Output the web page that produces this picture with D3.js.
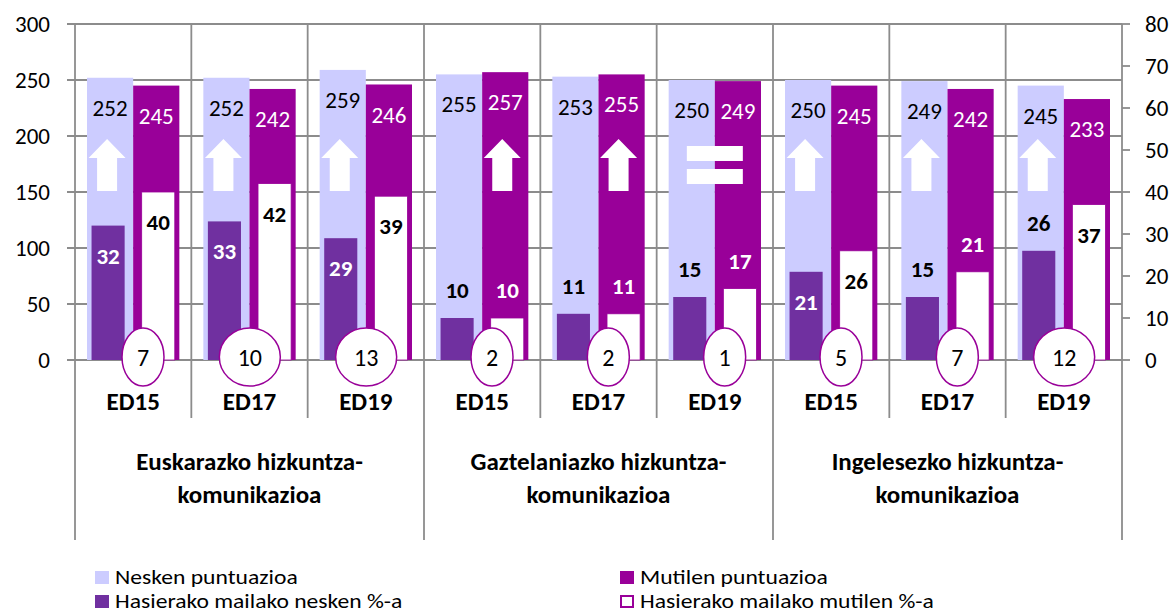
<!DOCTYPE html>
<html>
<head>
<meta charset="utf-8">
<script src="https://cdn.jsdelivr.net/npm/d3@7"></script>
<style>
  body { margin: 0; background: #fff; }
  svg { display: block; font-family: Carlito, Calibri, Lato, sans-serif; }
</style>
</head>
<body>
<div id="chart"></div>
<script>
// data
const groups = [
  ['Euskarazko hizkuntza-', 'komunikazioa'],
  ['Gaztelaniazko hizkuntza-', 'komunikazioa'],
  ['Ingelesezko hizkuntza-', 'komunikazioa'],
];
const editions = ['ED15', 'ED17', 'ED19'];
const neskenScore = [252, 252, 259, 255, 253, 250, 250, 249, 245];
const mutilenScore = [245, 242, 246, 257, 255, 249, 245, 242, 233];
const neskenPct = [32, 33, 29, 10, 11, 15, 21, 15, 26];
const mutilenPct = [40, 42, 39, 10, 11, 17, 26, 21, 37];
// where the % labels sit in the original: inside the bar or just above it
const neskenPctLabel = ['in', 'in', 'in', 'out', 'out', 'out', 'in', 'out', 'out'];
const mutilenPctLabel = ['in', 'in', 'in', 'out', 'out', 'out', 'in', 'out', 'in'];
const leftTicks = [0, 50, 100, 150, 200, 250, 300];
const rightTicks = [0, 10, 20, 30, 40, 50, 60, 70, 80];

const colours = {
  nesken: '#CCCCFF',
  mutilen: '#990099',
  neskenPct: '#7030A0',
  mutilenPct: '#FFFFFF',
  grid: '#8c8c8c',
};

const width = 1176;
const height = 612;
const plot = { left: 75, right: 1122, top: 24, bottom: 360 };
const fs = 23;

const cats = d3.range(neskenScore.length);

const x = d3.scaleBand()
    .domain(cats)
    .range([plot.left, plot.right]);

// primary bars sit side by side, secondary ones are thinner with a gap
const xPrim = d3.scaleBand()
    .domain(['nesken', 'mutilen'])
    .range([0, x.bandwidth()])
    .paddingInner(0)
    .paddingOuter(0.26);

const xSec = d3.scaleBand()
    .domain(['nesken', 'mutilen'])
    .range([0, x.bandwidth()])
    .paddingInner(0.34)
    .paddingOuter(0.33);

const y = d3.scaleLinear().domain([0, 300]).range([plot.bottom, plot.top]);
const y2 = d3.scaleLinear().domain([0, 80]).range([plot.bottom, plot.top]);

const svg = d3.select('#chart').append('svg')
    .attr('width', width)
    .attr('height', height);

// horizontal gridlines + left ticks
svg.append('g')
  .selectAll('line')
  .data(leftTicks)
  .join('line')
    .attr('x1', plot.left - 8)
    .attr('x2', plot.right)
    .attr('y1', d => y(d))
    .attr('y2', d => y(d))
    .attr('stroke', colours.grid)
    .attr('stroke-width', 1.8);

// vertical gridlines, longer ones split the three groups
svg.append('g')
  .selectAll('line')
  .data(d3.range(cats.length + 1))
  .join('line')
    .attr('x1', i => plot.left + i * x.step())
    .attr('x2', i => plot.left + i * x.step())
    .attr('y1', plot.top)
    .attr('y2', i => (i % 3 === 0 ? 540 : 418))
    .attr('stroke', colours.grid)
    .attr('stroke-width', 1.8);

// right axis ticks
svg.append('g')
  .selectAll('line')
  .data(rightTicks)
  .join('line')
    .attr('x1', plot.right)
    .attr('x2', plot.right + 8)
    .attr('y1', d => y2(d))
    .attr('y2', d => y2(d))
    .attr('stroke', colours.grid)
    .attr('stroke-width', 1.8);

svg.append('g')
    .attr('font-size', fs)
  .selectAll('text')
  .data(leftTicks)
  .join('text')
    .attr('x', 50)
    .attr('y', d => y(d))
    .attr('dy', '0.35em')
    .attr('text-anchor', 'end')
    .text(d => d);

svg.append('g')
    .attr('font-size', fs)
  .selectAll('text')
  .data(rightTicks)
  .join('text')
    .attr('x', 1145)
    .attr('y', d => y2(d))
    .attr('dy', '0.35em')
    .text(d => d);

// primary bars
const bars = svg.append('g');

bars.selectAll('.nesken')
  .data(cats)
  .join('rect')
    .attr('x', i => x(i) + xPrim('nesken'))
    .attr('width', xPrim.bandwidth())
    .attr('y', i => y(neskenScore[i]))
    .attr('height', i => y(0) - y(neskenScore[i]))
    .attr('fill', colours.nesken);

bars.selectAll('.mutilen')
  .data(cats)
  .join('rect')
    .attr('x', i => x(i) + xPrim('mutilen'))
    .attr('width', xPrim.bandwidth())
    .attr('y', i => y(mutilenScore[i]))
    .attr('height', i => y(0) - y(mutilenScore[i]))
    .attr('fill', colours.mutilen);

// secondary bars (right axis)
bars.selectAll('.neskenPct')
  .data(cats)
  .join('rect')
    .attr('x', i => x(i) + xSec('nesken'))
    .attr('width', xSec.bandwidth())
    .attr('y', i => y2(neskenPct[i]))
    .attr('height', i => y2(0) - y2(neskenPct[i]))
    .attr('fill', colours.neskenPct);

bars.selectAll('.mutilenPct')
  .data(cats)
  .join('rect')
    .attr('x', i => x(i) + xSec('mutilen'))
    .attr('width', xSec.bandwidth())
    .attr('y', i => y2(mutilenPct[i]))
    .attr('height', i => y2(0) - y2(mutilenPct[i]))
    .attr('fill', colours.mutilenPct)
    .attr('stroke', colours.mutilen)
    .attr('stroke-width', 0.8);

// score labels
const labels = svg.append('g').attr('font-size', fs).attr('text-anchor', 'middle');

labels.selectAll('.ln')
  .data(cats)
  .join('text')
    .attr('x', i => x(i) + xPrim('nesken') + xPrim.bandwidth() / 2)
    .attr('y', i => y(neskenScore[i]) + 30)
    .attr('dy', '0.35em')
    .attr('fill', '#000')
    .text(i => neskenScore[i]);

labels.selectAll('.lm')
  .data(cats)
  .join('text')
    .attr('x', i => x(i) + xPrim('mutilen') + xPrim.bandwidth() / 2)
    .attr('y', i => y(mutilenScore[i]) + 30)
    .attr('dy', '0.35em')
    .attr('fill', '#fff')
    .text(i => mutilenScore[i]);

const pctLabels = svg.append('g')
    .attr('font-size', fs)
    .attr('font-weight', 'bold')
    .attr('text-anchor', 'middle');

pctLabels.selectAll('.pn')
  .data(cats)
  .join('text')
    .attr('x', i => x(i) + xSec('nesken') + xSec.bandwidth() / 2)
    .attr('y', i => y2(neskenPct[i]) + (neskenPctLabel[i] === 'in' ? 30 : -28))
    .attr('dy', '0.35em')
    .attr('fill', i => (neskenPctLabel[i] === 'in' ? '#fff' : '#000'))
    .text(i => neskenPct[i]);

pctLabels.selectAll('.pm')
  .data(cats)
  .join('text')
    .attr('x', i => x(i) + xSec('mutilen') + xSec.bandwidth() / 2)
    .attr('y', i => y2(mutilenPct[i]) + (mutilenPctLabel[i] === 'in' ? 30 : -28))
    .attr('dy', '0.35em')
    .attr('fill', i => (mutilenPctLabel[i] === 'in' ? '#000' : '#fff'))
    .text(i => mutilenPct[i]);

// arrows / equals sign showing who scores higher
const marks = svg.append('g').attr('fill', '#fff');
const arrowTop = 139;

cats.forEach(i => {
  const diff = neskenScore[i] - mutilenScore[i];
  if (Math.abs(diff) <= 1) {
    const cx = x(i) + x.bandwidth() / 2;
    marks.append('rect').attr('x', cx - 28).attr('y', arrowTop + 7).attr('width', 56).attr('height', 15);
    marks.append('rect').attr('x', cx - 28).attr('y', arrowTop + 30).attr('width', 56).attr('height', 15);
    return;
  }
  const key = diff > 0 ? 'nesken' : 'mutilen';
  const cx = x(i) + xPrim(key) + xPrim.bandwidth() / 2 - 3;
  const t = arrowTop;
  const pts = [
    [cx, t], [cx + 18.5, t + 19], [cx + 10, t + 19], [cx + 10, t + 52],
    [cx - 10, t + 52], [cx - 10, t + 19], [cx - 18.5, t + 19],
  ];
  marks.append('path').attr('d', d3.line()(pts) + 'Z');
});

// difference bubbles at the foot of each pair
const diffOf = i => Math.abs(neskenScore[i] - mutilenScore[i]);
const bubbleRx = i => (String(diffOf(i)).length > 1 ? 30.5 : 21);

const bubbles = svg.append('g')
  .selectAll('g')
  .data(cats)
  .join('g')
    .attr('transform', i => `translate(${x(i) + 89 - bubbleRx(i)},${y(0) - 3})`);

bubbles.append('ellipse')
    .attr('rx', bubbleRx)
    .attr('ry', 29)
    .attr('fill', '#fff')
    .attr('stroke', colours.mutilen)
    .attr('stroke-width', 1.5);

bubbles.append('text')
    .attr('text-anchor', 'middle')
    .attr('dy', '0.36em')
    .attr('font-size', 24)
    .text(diffOf);

// category axis: editions, then groups
svg.append('g')
    .attr('font-size', 25)
    .attr('font-weight', 'bold')
    .attr('text-anchor', 'middle')
  .selectAll('text')
  .data(cats)
  .join('text')
    .attr('x', i => x(i) + x.bandwidth() / 2)
    .attr('y', 410)
    .text(i => editions[i % 3]);

const groupText = svg.append('g')
    .attr('font-size', 25)
    .attr('font-weight', 'bold')
    .attr('text-anchor', 'middle')
  .selectAll('text')
  .data(groups)
  .join('text')
    .attr('x', (d, g) => x(g * 3) + 1.5 * x.step())
    .attr('y', 470);

groupText.selectAll('tspan')
  .data(d => d)
  .join('tspan')
    .attr('x', function () { return this.parentNode.getAttribute('x'); })
    .attr('dy', (d, k) => (k ? 33 : 0))
    .text(d => d);

// legend
const legendItems = [
  { name: 'Nesken puntuazioa', fill: colours.nesken, stroke: null, x: 95, y: 584 },
  { name: 'Mutilen puntuazioa', fill: colours.mutilen, stroke: null, x: 620, y: 584 },
  { name: 'Hasierako mailako nesken %-a', fill: colours.neskenPct, stroke: null, x: 95, y: 608 },
  { name: 'Hasierako mailako mutilen %-a', fill: colours.mutilenPct, stroke: colours.mutilen, x: 620, y: 608 },
];

const legend = svg.append('g')
  .selectAll('g')
  .data(legendItems)
  .join('g')
    .attr('transform', d => `translate(${d.x},${d.y})`);

legend.append('rect')
    .attr('x', d => (d.stroke ? 1 : 0))
    .attr('y', d => (d.stroke ? -12 : -13))
    .attr('width', d => (d.stroke ? 12 : 14))
    .attr('height', d => (d.stroke ? 11 : 13))
    .attr('fill', d => d.fill)
    .attr('stroke', d => d.stroke)
    .attr('stroke-width', 2);

legend.append('text')
    .attr('x', 20)
    .attr('font-size', 20)
    .text(d => d.name)
    .each(function () {
      // the original legend text runs a little wider than the font gives
      const w = this.getComputedTextLength();
      d3.select(this).attr('textLength', w * 1.18).attr('lengthAdjust', 'spacingAndGlyphs');
    });
</script>
</body>
</html>
